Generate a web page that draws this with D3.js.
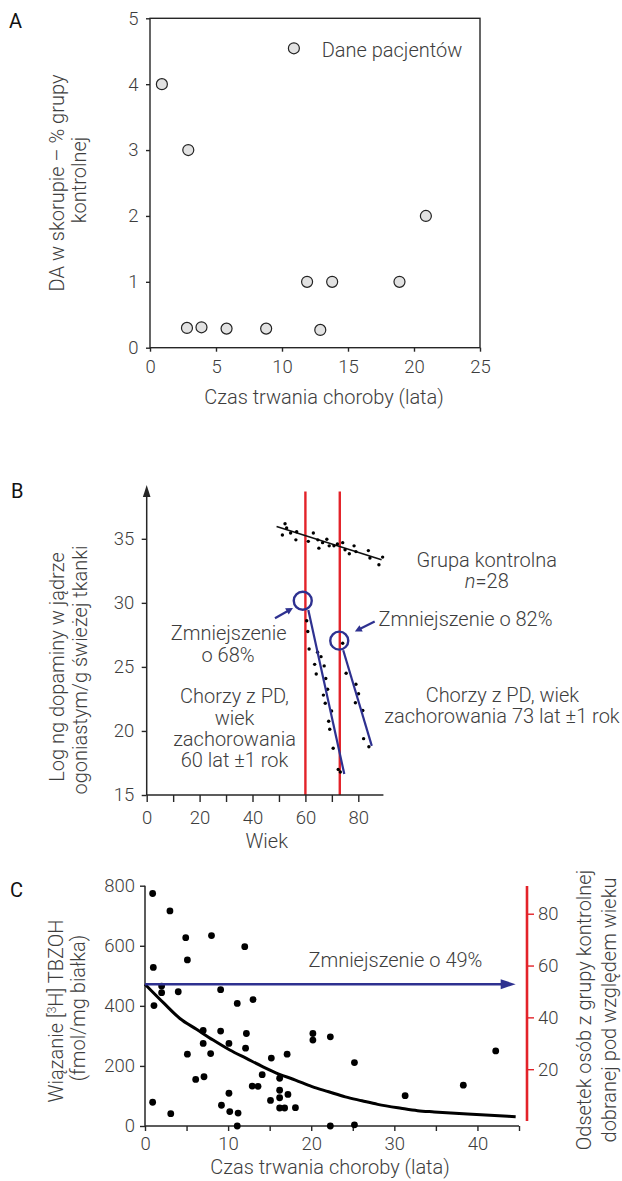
<!DOCTYPE html>
<html><head><meta charset="utf-8">
<script src="https://cdn.jsdelivr.net/npm/d3@7"></script>
<style>
html,body{margin:0;padding:0;background:#fff;}
svg text{font-family:Roboto,"Open Sans",Lato,sans-serif;font-weight:300;fill:#3d3d3d;}
</style></head><body>
<svg id="c" width="622" height="1181"></svg>
<script>
// ---------- Panel A data ----------
const aDuration = [0.9, 2.9, 2.8, 3.9, 5.8, 8.8, 12.9, 11.9, 13.8, 18.9, 20.9];
const aDA       = [4.0, 3.0, 0.3, 0.31, 0.29, 0.29, 0.27, 1.0, 1.0, 1.0, 2.0];
const aXTicks = [0, 5, 10, 15, 20, 25];
const aYTicks = [0, 1, 2, 3, 4, 5];
const aLegend = "Dane pacjentów";

// ---------- Panel B data ----------
const bCtrlAge = [52.3, 51.3, 52.9, 54.4, 56.7, 56.4, 61.1, 63.0, 64.7, 65.1, 66.5, 68.1, 69.0, 70.8, 72.1, 74.1, 75.0, 76.6, 78.4, 79.1, 83.8, 84.4, 87.8, 89.2];
const bCtrlVal = [36.17, 35.3, 35.84, 35.45, 35.55, 34.92, 34.8, 35.45, 34.92, 34.27, 34.7, 34.96, 34.45, 34.45, 34.6, 34.7, 34.14, 33.83, 34.45, 34.0, 34.08, 33.5, 32.97, 33.57];
const bPd60Age = [60.5, 60.9, 61.4, 64.6, 65.9, 63.5, 67.1, 64.1, 67.7, 68.4, 66.8, 67.5, 69.9, 68.8, 69.2, 70.5, 72.4, 73.2];
const bPd60Val = [28.6, 27.76, 26.4, 26.15, 25.8, 25.2, 25.08, 24.45, 24.1, 23.26, 22.8, 22.16, 21.56, 20.76, 20.13, 18.65, 17.0, 16.8];
const bPd73Age = [74.1, 75.4, 79.1, 80.1, 78.9, 81.7, 82.0, 84.0];
const bPd73Val = [26.85, 24.5, 23.65, 22.9, 22.2, 21.6, 19.4, 18.77];
const bCtrlFitAge = [49.1, 88.8], bCtrlFitVal = [35.96, 33.36];
const bPd60FitAge = [61.1, 74.7], bPd60FitVal = [29.45, 16.64];
const bPd73FitAge = [74.3, 85.1], bPd73FitVal = [26.3, 18.83];
const bOnsetAge = [60, 73];
const bCircleAge = [59.0, 72.8], bCircleVal = [30.16, 27.05];
const bArrowFromAge = [48.5, 86.2], bArrowFromVal = [28.8, 28.54];
const bArrowToAge   = [55.3, 78.7], bArrowToVal   = [29.6, 27.76];
const bXTicks = [0, 10, 20, 30, 40, 50, 60, 70, 80];
const bYTicks = [15, 20, 25, 30, 35];

// ---------- Panel C data ----------
const cDuration = [0.92, 1.0, 1.08, 0.92, 2.0, 2.0, 3.0, 4.0, 3.1, 4.9, 5.1, 5.1, 6.1, 7.0, 7.0, 7.1, 8.0, 7.9, 9.1, 9.1, 9.2, 10.1, 10.1, 10.2, 11.1, 11.2, 11.1, 12.0, 12.2, 12.1, 13.0, 12.9, 13.6, 14.1, 15.2, 15.1, 16.2, 16.2, 16.2, 16.2, 16.8, 17.1, 17.2, 18.1, 20.2, 20.2, 22.3, 22.3, 25.2, 25.2, 31.3, 38.3, 42.2];
const cBinding  = [774, 528, 401, 79, 466, 444, 716, 447, 41, 627, 553, 239, 155, 318, 275, 164, 634, 241, 454, 316, 69, 275, 109, 48, 408, 43, 0, 597, 308, 259, 421, 133, 132, 171, 226, 85, 159, 119, 94, 60, 60, 239, 105, 61, 308, 286, 297, 0, 211, 4, 101, 136, 250];
const cCurveX = [0, 2.3, 4.2, 6.2, 8.2, 10.2, 12.2, 14.2, 16.1, 18.1, 20.1, 22.1, 24.1, 26.1, 28.0, 30.8, 32.8, 34.8, 38.8, 44.6];
const cCurveY = [472, 408, 358, 322, 286, 253, 225, 197, 173, 153, 131, 114, 97, 84, 72, 59, 51, 47, 40, 31];
const cArrowX = [0, 44.6], cArrowY = 472;
const cXTicks = [0, 5, 10, 15, 20, 25, 30, 35, 40, 45];
const cYTicks = [0, 200, 400, 600, 800];
const cRTicks = [20, 40, 60, 80];

const BLUE = "#2e3190", RED = "#e32229", AX = "#262626", TXT = "#3d3d3d";
const FS = 20, TFS = 18.5;
const svg = d3.select("#c");
const fmt = d3.format("d");

function styleAxis(g, color) {
  g.select(".domain").remove();
  g.selectAll(".tick line").attr("stroke", color || AX).attr("stroke-width", 1.4);
  g.selectAll(".tick text").attr("font-size", TFS).style("fill", TXT);
}
function text(g, x, y, s, opt) {
  opt = opt || {};
  return g.append("text").attr("x", x).attr("y", y).attr("text-anchor", opt.anchor || "middle")
    .attr("font-size", opt.size || FS).text(s);
}
function vtext(g, x, y, s, size) {
  return g.append("text").attr("transform", `translate(${x},${y}) rotate(-90)`)
    .attr("text-anchor", "middle").attr("font-size", size || FS).text(s);
}
function arrow(g, x1, y1, x2, y2, color, len, half, w) {
  const dx = x2 - x1, dy = y2 - y1, L = Math.hypot(dx, dy), ux = dx / L, uy = dy / L;
  const bx = x2 - ux * len, by = y2 - uy * len;
  g.append("line").attr("x1", x1).attr("y1", y1).attr("x2", bx + ux).attr("y2", by + uy)
    .attr("stroke", color).attr("stroke-width", w);
  g.append("polygon").attr("fill", color)
    .attr("points", [[x2, y2], [bx - uy * half, by + ux * half], [bx + uy * half, by - ux * half]].map(p => p.join(",")).join(" "));
}
function panelLabel(x, y, s) {
  svg.append("text").attr("x", x).attr("y", y).attr("font-size", 20).style("font-weight", 400).style("fill", "#111").text(s);
}

// ================= Panel A =================
{
  const xA = d3.scaleLinear().domain([0, 25]).range([150, 480]);
  const yA = d3.scaleLinear().domain([0, 5]).range([347.7, 18.3]);
  const g = svg.append("g");
  g.append("g").attr("transform", `translate(0,${yA(0)})`)
    .call(d3.axisBottom(xA).tickValues(aXTicks).tickFormat(fmt).tickSize(4).tickSizeOuter(0).tickPadding(8))
    .call(a => styleAxis(a));
  g.append("g").attr("transform", `translate(${xA(0)},0)`)
    .call(d3.axisLeft(yA).tickValues(aYTicks).tickFormat(fmt).tickSize(4).tickSizeOuter(0).tickPadding(7.5))
    .call(a => styleAxis(a));
  g.append("rect").attr("x", xA(0)).attr("y", yA(5)).attr("width", xA(25) - xA(0)).attr("height", yA(0) - yA(5))
    .attr("fill", "none").attr("stroke", AX).attr("stroke-width", 1.4);
  g.selectAll("circle.pt").data(d3.range(aDuration.length)).join("circle").attr("class", "pt")
    .attr("cx", i => xA(aDuration[i])).attr("cy", i => yA(aDA[i])).attr("r", 5.5)
    .attr("fill", "#e2e2e2").attr("stroke", "#222").attr("stroke-width", 1.2);
  // legend
  g.append("circle").attr("cx", xA(10.9)).attr("cy", yA(4.545)).attr("r", 5.5)
    .attr("fill", "#e2e2e2").attr("stroke", "#222").attr("stroke-width", 1.2);
  text(g, 321.7, 56.7, aLegend, { anchor: "start" });
  text(g, 324, 404, "Czas trwania choroby (lata)");
  vtext(g, 64, 183, "DA w skorupie – % grupy");
  vtext(g, 86, 180, "kontrolnej");
  panelLabel(9, 28.3, "A");
}

// ================= Panel B =================
{
  const xB = d3.scaleLinear().domain([0, 89.5]).range([146.7, 146.7 + 89.5 * 2.645]);
  const yB = d3.scaleLinear().domain([15, 39.2]).range([795, 485]);
  const g = svg.append("g");
  g.selectAll("line.onset").data(bOnsetAge).join("line").attr("class", "onset")
    .attr("x1", d => xB(d)).attr("x2", d => xB(d)).attr("y1", yB(38.7)).attr("y2", yB(15))
    .attr("stroke", RED).attr("stroke-width", 2.4);
  g.append("g").attr("transform", `translate(0,${yB(15)})`)
    .call(d3.axisBottom(xB).tickValues(bXTicks).tickFormat(d => d % 20 === 0 ? d : "").tickSize(7).tickSizeOuter(0).tickPadding(9))
    .call(a => styleAxis(a));
  g.append("g").attr("transform", `translate(${xB(0)},0)`)
    .call(d3.axisLeft(yB).tickValues(bYTicks).tickSize(5).tickSizeOuter(0).tickPadding(7.4))
    .call(a => styleAxis(a));
  g.append("line").attr("x1", xB(0)).attr("x2", xB(89.5)).attr("y1", yB(15)).attr("y2", yB(15)).attr("stroke", AX).attr("stroke-width", 1.5);
  arrow(g, xB(0), yB(15), xB(0), yB(39.2), AX, 12, 3.8, 1.5);

  g.append("line").attr("x1", xB(bCtrlFitAge[0])).attr("y1", yB(bCtrlFitVal[0])).attr("x2", xB(bCtrlFitAge[1])).attr("y2", yB(bCtrlFitVal[1]))
    .attr("stroke", "#111").attr("stroke-width", 1.6);
  const dots = (ages, vals) => g.append("g").selectAll("circle").data(d3.range(ages.length)).join("circle")
    .attr("cx", i => xB(ages[i])).attr("cy", i => yB(vals[i])).attr("r", 1.7).attr("fill", "#000");
  dots(bCtrlAge, bCtrlVal);
  dots(bPd60Age, bPd60Val);
  dots(bPd73Age, bPd73Val);
  [[bPd60FitAge, bPd60FitVal], [bPd73FitAge, bPd73FitVal]].forEach(([a, v]) => {
    g.append("line").attr("x1", xB(a[0])).attr("y1", yB(v[0])).attr("x2", xB(a[1])).attr("y2", yB(v[1]))
      .attr("stroke", BLUE).attr("stroke-width", 2.2);
  });
  g.selectAll("circle.mark").data([0, 1]).join("circle").attr("class", "mark")
    .attr("cx", i => xB(bCircleAge[i])).attr("cy", i => yB(bCircleVal[i])).attr("r", 9)
    .attr("fill", "none").attr("stroke", BLUE).attr("stroke-width", 2.4);
  [0, 1].forEach(i => arrow(g, xB(bArrowFromAge[i]), yB(bArrowFromVal[i]), xB(bArrowToAge[i]), yB(bArrowToVal[i]), BLUE, 7, 3.6, 2.2));

  text(g, 486.8, 566.7, "Grupa kontrolna");
  const n = text(g, 486.8, 588, "");
  n.append("tspan").style("font-style", "italic").text("n");
  n.append("tspan").text("=28");
  text(g, 465.5, 626, "Zmniejszenie o 82%");
  text(g, 228.7, 640, "Zmniejszenie");
  text(g, 228, 661.7, "o 68%");
  text(g, 234.5, 703.3, "Chorzy z PD,");
  text(g, 234.5, 724.5, "wiek");
  text(g, 234.5, 746, "zachorowania");
  text(g, 234.5, 766.7, "60 lat \u00B11 rok");
  text(g, 502.4, 701.7, "Chorzy z PD, wiek");
  text(g, 502, 723.3, "zachorowania 73 lat \u00B11 rok");
  text(g, 266.7, 848, "Wiek");
  vtext(g, 64, 667, "Log ng dopaminy w jądrze");
  vtext(g, 87, 670, "ogoniastym/g świeżej tkanki");
  panelLabel(11, 498, "B");
}

// ================= Panel C =================
{
  const xC = d3.scaleLinear().domain([0, 45]).range([145, 519]);
  const yC = d3.scaleLinear().domain([0, 800]).range([1126, 885.7]);
  const yR = d3.scaleLinear().domain([0, 90.7]).range([1121, 886]);
  const g = svg.append("g");
  g.append("g").attr("transform", `translate(0,${yC(0)})`)
    .call(d3.axisBottom(xC).tickValues(cXTicks).tickFormat(d => d % 10 === 0 ? d : "").tickSize(5).tickSizeOuter(0).tickPadding(6.2))
    .call(a => styleAxis(a));
  g.append("g").attr("transform", `translate(${xC(0)},0)`)
    .call(d3.axisLeft(yC).tickValues(cYTicks).tickSize(5).tickSizeOuter(0).tickPadding(5))
    .call(a => styleAxis(a));
  g.append("line").attr("x1", xC(0)).attr("x2", xC(45)).attr("y1", yC(0)).attr("y2", yC(0)).attr("stroke", AX).attr("stroke-width", 1.5);
  g.append("line").attr("x1", xC(0)).attr("x2", xC(0)).attr("y1", yC(0)).attr("y2", yC(800)).attr("stroke", AX).attr("stroke-width", 1.5);
  g.append("g").attr("transform", `translate(527,0)`)
    .call(d3.axisRight(yR).tickValues(cRTicks).tickSize(7).tickSizeOuter(0).tickPadding(4))
    .call(a => styleAxis(a, RED));
  g.append("line").attr("x1", 527).attr("x2", 527).attr("y1", yR(0)).attr("y2", yR(90.7)).attr("stroke", RED).attr("stroke-width", 2.6);

  g.append("g").selectAll("circle").data(d3.range(cDuration.length)).join("circle")
    .attr("cx", i => xC(cDuration[i])).attr("cy", i => yC(cBinding[i])).attr("r", 3.4).attr("fill", "#000");
  const line = d3.line().x(i => xC(cCurveX[i])).y(i => yC(cCurveY[i])).curve(d3.curveMonotoneX);
  g.append("path").attr("d", line(d3.range(cCurveX.length))).attr("fill", "none").attr("stroke", "#000").attr("stroke-width", 3);
  arrow(g, xC(cArrowX[0]), yC(cArrowY), xC(cArrowX[1]), yC(cArrowY), BLUE, 15, 5, 2.6);

  text(g, 395.4, 966.7, "Zmniejszenie o 49%");
  text(g, 330, 1174, "Czas trwania choroby (lata)");
  const t1 = vtext(g, 63, 1011, "");
  t1.append("tspan").text("Wiązanie [");
  t1.append("tspan").attr("font-size", 12).attr("dy", -7).text("3");
  t1.append("tspan").attr("dy", 7).text("H] TBZOH");
  vtext(g, 85, 1008, "(fmol/mg białka)");
  vtext(g, 591, 1010, "Odsetek osób z grupy kontrolnej");
  vtext(g, 616, 1010, "dobranej pod względem wieku");
  panelLabel(10, 896.7, "C");
}
</script>
</body></html>
